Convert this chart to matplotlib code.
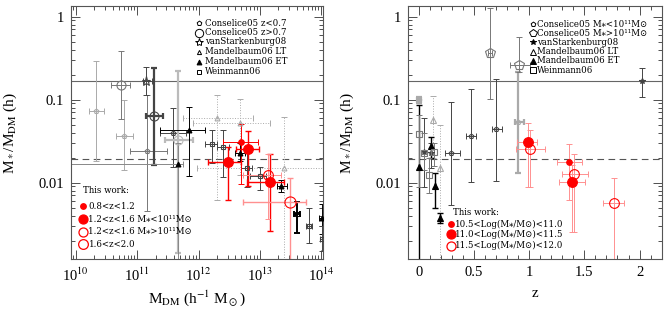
import matplotlib
matplotlib.use("Agg")
import matplotlib.pyplot as plt
import numpy as np
from matplotlib.ticker import LogLocator, NullFormatter, MultipleLocator, FixedLocator

plt.rcParams["font.family"] = "Liberation Serif"
plt.rcParams["mathtext.fontset"] = "stix"

# rows: x, x_lo, x_hi, ratio, ratio_lo, ratio_hi
# left panel x is log10(M_DM / h^-1 Msun)
L_con_low_light = [[10.32, 10.21, 10.46, 0.0733, 0.0183, 0.293],
                   [10.79, 10.66, 10.93, 0.0366, 0.0142, 0.0986]]
L_con_low_mid = [[11.16, 10.88, 11.48, 0.024, 0.0045, 0.113]]
L_con_low_dark = [[11.59, 11.37, 11.79, 0.0392, 0.0155, 0.080]]
L_con_high_mid = [[10.73, 10.58, 10.88, 0.148, 0.0577, 0.387]]
L_con_high_dark = [[11.27, 11.14, 11.42, 0.0633, 0.0163, 0.238]]
L_con_high_light = [[11.67, 11.45, 11.91, 0.0325, 0.0014, 0.224]]
L_vans = [[11.15, 11.09, 11.24, 0.1686, 0.113, 0.244]]
L_mand_et = [[11.84, 11.37, 12.10, 0.043, 0.012, 0.0805],
             [12.675, 12.6, 12.75, 0.0225, 0.018, 0.030],
             [13.344, 13.28, 13.44, 0.00914, 0.0077, 0.0107],
             [14.008, 13.97, 14.05, 0.00377, 0.0024, 0.0055]]
L_mand_et_wide = [[11.67, 9.5, 11.75, 0.0166, 0.0010, 0.030]]
L_mand_lt = [[12.295, 11.745, 12.887, 0.0594, 0.0061, 0.113],
             [12.675, 11.909, 13.165, 0.0517, 0.0123, 0.103],
             [13.40, 11.97, 14.1, 0.0151, 0.0005, 0.0612]]
L_wein = [[12.214, 12.1, 12.3, 0.0288, 0.017, 0.043],
          [12.403, 12.3, 12.5, 0.027, 0.0117, 0.043],
          [12.785, 12.7, 12.87, 0.0151, 0.0089, 0.0225],
          [13.002, 12.84, 13.1, 0.0121, 0.0081, 0.0155],
          [13.80, 13.75, 13.85, 0.00299, 0.00185, 0.00489],
          [14.008, 13.98, 14.03, 0.00209, 0.0015, 0.0030]]
L_wein_black = [[13.60, 13.55, 13.65, 0.00414, 0.00244, 0.00587]]

L_tw_z1 = [[12.69, 12.40, 12.97, 0.0310, 0.0097, 0.051]]
L_tw_z14_lo = [[12.485, 12.16, 12.69, 0.0179, 0.0061, 0.0266],
               [12.81, 12.61, 12.98, 0.0255, 0.0092, 0.0415],
               [13.165, 12.785, 13.40, 0.0103, 0.0026, 0.022]]
L_tw_z14_hi = [[13.127, 12.72, 13.34, 0.0124, 0.0036, 0.0222]]
L_tw_z18 = [[13.49, 12.72, 13.76, 0.0058, 0.0009, 0.0114]]

# right panel x is redshift
R_con_low_light = [[0.0, -0.02, 0.02, 0.100, 0.092, 0.108],
                   [0.897, 0.87, 0.95, 0.0531, 0.0131, 0.216]]
R_con_low_dark = [[0.288, 0.24, 0.37, 0.0225, 0.00536, 0.0925],
                  [0.473, 0.43, 0.52, 0.0366, 0.0102, 0.133],
                  [0.70, 0.66, 0.75, 0.0437, 0.0105, 0.175]]
R_con_high = [[0.644, 0.63, 0.66, 0.36, 0.1006, 1.26],
              [0.91, 0.83, 1.01, 0.261, 0.216, 0.56]]
R_vans = [[2.02, 2.02, 2.02, 0.167, 0.108, 0.237],
          [0.045, 0.045, 0.045, 0.0235, 0.0089, 0.060],
          [0.115, 0.115, 0.115, 0.0225, 0.0150, 0.030]]
R_mand_et = [[0.0, 0.0, 0.0, 0.0152, 0.0010, 0.085],
             [0.11, 0.11, 0.11, 0.0275, 0.020, 0.035],
             [0.15, 0.15, 0.15, 0.0091, 0.0049, 0.0129],
             [0.19, 0.19, 0.19, 0.0037, 0.0033, 0.0043]]
R_mand_lt = [[0.13, 0.13, 0.13, 0.0567, 0.020, 0.110],
             [0.19, 0.19, 0.19, 0.0151, 0.0005, 0.050]]
R_wein = [[0.0, 0.0, 0.0, 0.0384, 0.0089, 0.065],
          [0.045, 0.045, 0.045, 0.0225, 0.0142, 0.040],
          [0.094, 0.094, 0.094, 0.0123, 0.0075, 0.020],
          [0.14, 0.14, 0.14, 0.0231, 0.016, 0.030]]

R_tw_lo = [[1.36, 1.25, 1.48, 0.0175, 0.00615, 0.0288]]
R_tw_mid = [[0.994, 0.89, 1.07, 0.0305, 0.0089, 0.0525],
            [1.39, 1.27, 1.51, 0.01005, 0.00255, 0.0162]]
R_tw_hi = [[1.01, 0.88, 1.14, 0.0251, 0.0089, 0.043],
           [1.41, 1.30, 1.53, 0.01256, 0.00255, 0.0219],
           [1.77, 1.67, 1.86, 0.00572, 0.0009, 0.01125]]

baryon_frac = 0.168
dashed_level = 0.0195

LIGHT, MID, DARK, RED, PINK = "#aaaaaa", "#777777", "#444444", "#ff0000", "#ff9090"
LEG = dict(fontsize=6.2, family=["DejaVu Serif", "DejaVu Sans"], math_fontfamily="dejavuserif",
           va="center", ha="left")


def draw(ax, rows, logx, color, marker, ms, mfc="none", ecolor=None, lw=0.7, ls="-", mew=0.8):
    a = np.array(rows, dtype=float).T
    x, xlo, xhi, y, ylo, yhi = a
    if logx:
        x, xlo, xhi = 10 ** x, 10 ** xlo, 10 ** xhi
    ec = ecolor or color
    eb = ax.errorbar(x, y, xerr=[x - xlo, xhi - x], yerr=[y - ylo, yhi - y],
                     fmt="none", ecolor=ec, elinewidth=lw, capsize=2, capthick=lw, zorder=2)
    for c in eb[2]:
        c.set_linestyle(ls)
    ax.plot(x, y, ls="none", marker=marker, ms=ms, mfc=mfc if mfc != "same" else color,
            mec=color, mew=mew, zorder=3)


fig = plt.figure(figsize=(6.68, 3.19), dpi=100)
axL = fig.add_axes([0.1063, 0.1871, 0.3772, 0.7940])
axR = fig.add_axes([0.6103, 0.1871, 0.3802, 0.7940])

# ---- left panel ----
draw(axL, L_con_low_light, True, LIGHT, "p", 3.5)
draw(axL, L_con_low_mid, True, MID, "p", 3.5)
draw(axL, L_con_low_dark, True, DARK, "p", 3.5)
draw(axL, L_con_high_mid, True, MID, "o", 6.5)
draw(axL, L_con_high_dark, True, DARK, "o", 6.5, lw=1.6)
draw(axL, L_con_high_light, True, "#bbbbbb", "o", 6.5, lw=1.6)
draw(axL, L_vans, True, DARK, "*", 6.5)
draw(axL, L_mand_lt, True, LIGHT, "^", 3.5, ls=":")
draw(axL, L_mand_et_wide, True, "k", "^", 3.5, mfc="same", ecolor="#888888")
draw(axL, L_mand_et, True, "k", "^", 3.5, mfc="same")
draw(axL, L_wein, True, DARK, "s", 2.8)
draw(axL, L_wein_black, True, "k", "s", 2.8, lw=1.4)
draw(axL, L_tw_z1, True, RED, "o", 4, mfc="same")
draw(axL, L_tw_z14_lo, True, RED, "o", 7, mfc="same", lw=1.0)
draw(axL, L_tw_z14_hi, True, RED, "o", 7, ecolor=PINK)
draw(axL, L_tw_z18, True, RED, "o", 8, ecolor=PINK, lw=1.0)

# ---- right panel ----
draw(axR, R_con_low_light, False, LIGHT, "p", 3.5, lw=1.6)
draw(axR, R_con_low_dark, False, DARK, "p", 3.5)
draw(axR, R_con_high, False, MID, "p", 7)
draw(axR, R_vans, False, DARK, "*", 4, mfc="same")
draw(axR, R_mand_lt, False, LIGHT, "^", 5, ls=":")
draw(axR, R_mand_et, False, "k", "^", 4.5, mfc="same", lw=1.0)
draw(axR, R_wein, False, MID, "s", 5)
draw(axR, R_tw_lo, False, RED, "o", 4, mfc="same", ecolor=PINK)
draw(axR, R_tw_mid, False, RED, "o", 7, mfc="same", ecolor=PINK)
draw(axR, R_tw_hi, False, RED, "o", 7, ecolor=PINK)

for ax in (axL, axR):
    ax.set_yscale("log")
    ax.set_ylim(0.00119, 1.34)
    ax.axhline(baryon_frac, color="#666666", lw=0.8, zorder=1)
    ax.axhline(dashed_level, color="#555555", lw=0.8, ls=(0, (6, 4)), zorder=1)
    ax.tick_params(which="both", direction="in", top=True, right=True, labelsize=10.5,
                   width=0.6, colors="#333333", labelcolor="k")
    ax.tick_params(which="major", length=6.5, pad=5)
    ax.tick_params(which="minor", length=3)
    ax.yaxis.set_major_locator(FixedLocator([0.01, 0.1, 1]))
    ax.yaxis.set_minor_locator(LogLocator(base=10, subs=np.arange(2, 10)))
    ax.yaxis.set_minor_formatter(NullFormatter())
    ax.set_yticklabels(["0.01", "0.1", "1"])
    for s in ax.spines.values():
        s.set_linewidth(0.8)
        s.set_color("#555555")
    ax.set_ylabel(r"M$_*$/M$_{\rm DM}$ (h)", fontsize=11)
    ax.yaxis.set_label_coords(-0.205, 0.5)

axL.set_xscale("log")
axL.set_xlim(10 ** 9.92, 10 ** 14.03)
axL.xaxis.set_major_locator(FixedLocator([1e10, 1e11, 1e12, 1e13, 1e14]))
axL.xaxis.set_minor_locator(LogLocator(base=10, subs=np.arange(2, 10)))
axL.xaxis.set_minor_formatter(NullFormatter())
axL.set_xticklabels([r"10$^{10}$", r"10$^{11}$", r"10$^{12}$", r"10$^{13}$", r"10$^{14}$"])
axL.set_xlabel(r"M$_{\rm DM}$ (h$^{-1}$ M$_\odot$)", fontsize=11)
axL.xaxis.set_label_coords(0.5, -0.115)

axR.set_xlim(-0.1, 2.2)
axR.xaxis.set_major_locator(MultipleLocator(0.5))
axR.xaxis.set_minor_locator(MultipleLocator(0.1))
axR.set_xticks([0, 0.5, 1, 1.5, 2])
axR.set_xticklabels(["0", "0.5", "1", "1.5", "2"])
axR.set_xlabel("z", fontsize=11)
axR.xaxis.set_label_coords(0.5, -0.11)

# ---- legends, drawn by hand as in the original ----
left_keys = [("p", 3.5, "none", "k", "Conselice05 z<0.7"),
             ("o", 6, "none", "k", "Conselice05 z>0.7"),
             ("*", 6, "none", "k", "vanStarkenburg08"),
             ("^", 3, "none", "k", "Mandelbaum06 LT"),
             ("^", 3.5, "k", "k", "Mandelbaum06 ET"),
             ("s", 2.8, "none", "k", "Weinmann06")]
rows_y = [0.932, 0.895, 0.858, 0.820, 0.780, 0.741]
for (m, ms, fc, ec, txt), yy in zip(left_keys, rows_y):
    axL.plot([0.509], [yy], transform=axL.transAxes, marker=m, ms=ms, mfc=fc, mec=ec, mew=0.7, ls="none")
    axL.text(0.530, yy, txt, transform=axL.transAxes, **LEG)

axL.text(0.049, 0.270, "This work:", transform=axL.transAxes, **LEG)
left_tw = [("o", 4, RED, "0.8<z<1.2"),
           ("o", 6.5, RED, "1.2<z<1.6 M\u204e<10\u00b9\u00b9M\u2299"),
           ("o", 6.5, "none", "1.2<z<1.6 M\u204e>10\u00b9\u00b9M\u2299"),
           ("o", 7, "none", "1.6<z<2.0")]
for (m, ms, fc, txt), yy in zip(left_tw, [0.210, 0.159, 0.109, 0.059]):
    axL.plot([0.046], [yy], transform=axL.transAxes, marker=m, ms=ms, mfc=fc, mec=RED, mew=0.9, ls="none")
    axL.text(0.069, yy, txt, transform=axL.transAxes, **LEG)

right_keys = [("p", 3.5, "none", "k", "Conselice05 M\u204e<10\u00b9\u00b9M\u2299"),
              ("p", 6, "none", "k", "Conselice05 M\u204e>10\u00b9\u00b9M\u2299"),
              ("*", 4, "k", "k", "vanStarkenburg08"),
              ("^", 5, "none", "k", "Mandelbaum06 LT"),
              ("^", 5, "k", "k", "Mandelbaum06 ET"),
              ("s", 4.5, "none", "k", "Weinmann06")]
rows_y = [0.929, 0.892, 0.857, 0.820, 0.783, 0.747]
for (m, ms, fc, ec, txt), yy in zip(right_keys, rows_y):
    axR.plot([0.494], [yy], transform=axR.transAxes, marker=m, ms=ms, mfc=fc, mec=ec, mew=0.7, ls="none")
    axR.text(0.509, yy, txt, transform=axR.transAxes, **LEG)

axR.text(0.177, 0.184, "This work:", transform=axR.transAxes, **LEG)
right_tw = [("o", 4, RED, "10.5<Log(M\u204e/M\u2299)<11.0"),
            ("o", 6.5, RED, "11.0<Log(M\u204e/M\u2299)<11.5"),
            ("o", 6.5, "none", "11.5<Log(M\u204e/M\u2299)<12.0")]
for (m, ms, fc, txt), yy in zip(right_tw, [0.139, 0.100, 0.054]):
    axR.plot([0.170], [yy], transform=axR.transAxes, marker=m, ms=ms, mfc=fc, mec=RED, mew=0.9, ls="none")
    axR.text(0.186, yy, txt, transform=axR.transAxes, **LEG)

fig.savefig("out.png", dpi=100)
